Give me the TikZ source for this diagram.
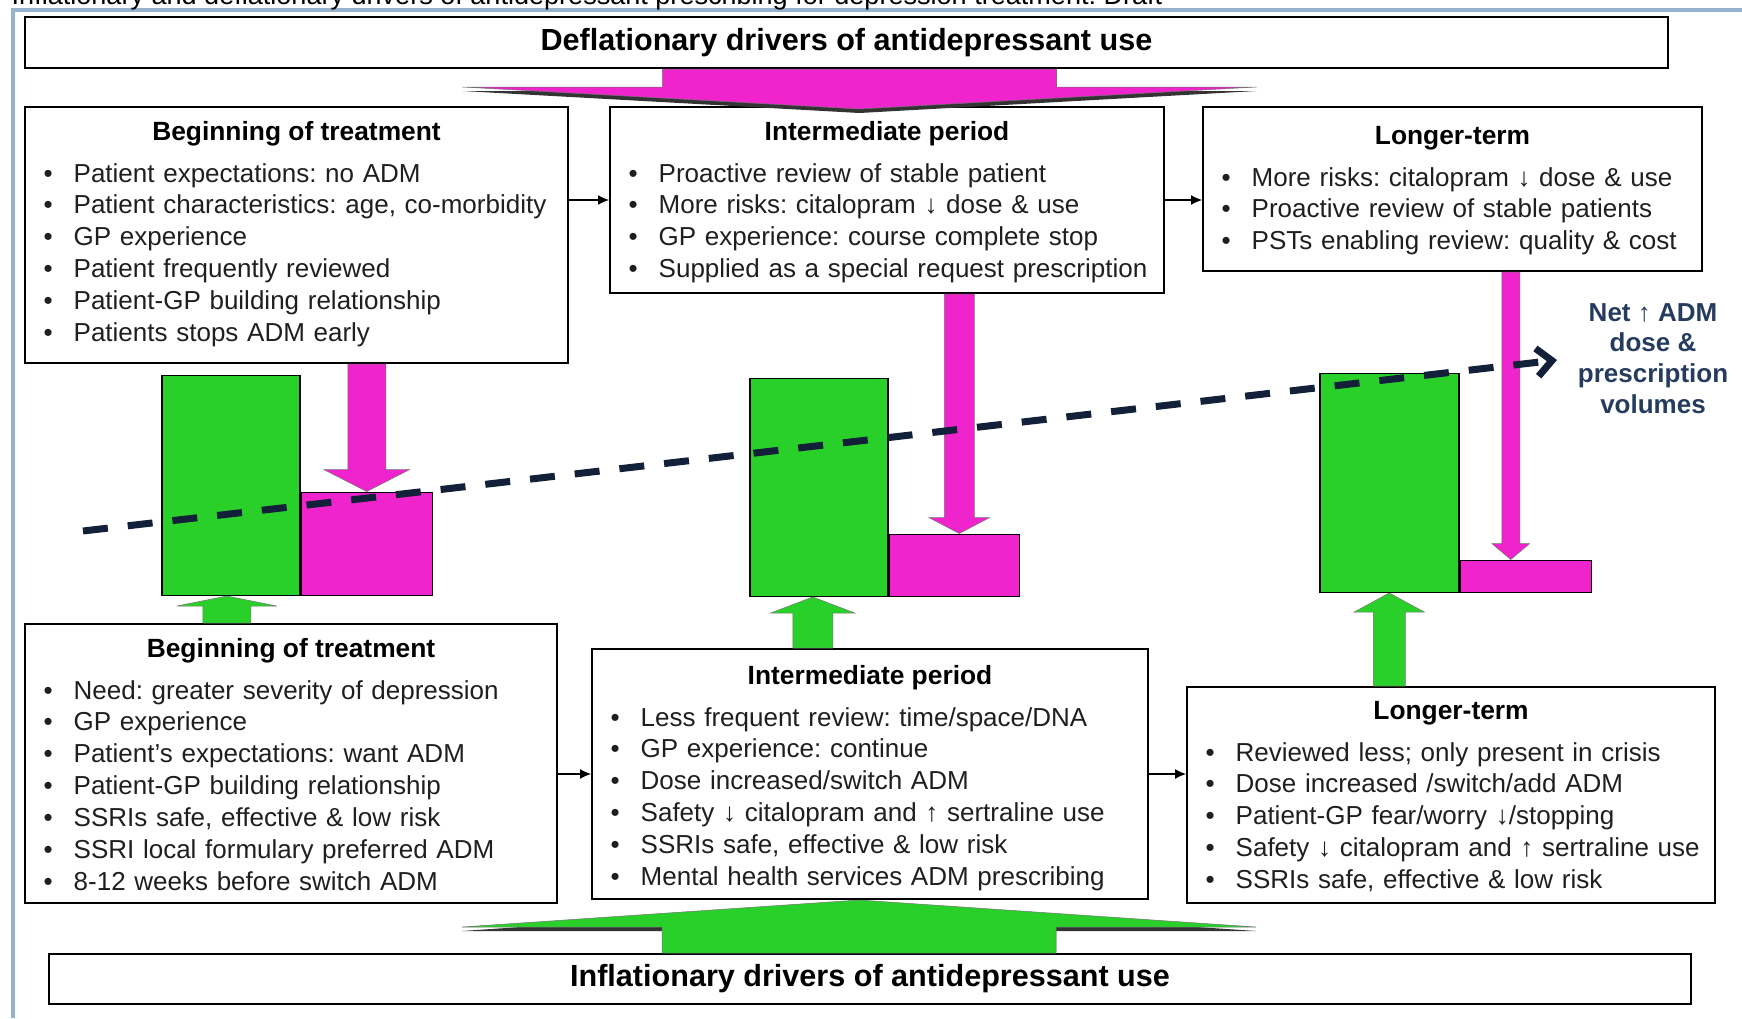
\documentclass[tikz,border=0pt]{standalone}
\usepackage{fontspec}
\setmainfont{Liberation Sans}
\frenchspacing
\usetikzlibrary{arrows.meta,positioning,calc}

\definecolor{incgreen}{RGB}{42,208,42}
\definecolor{decpink}{RGB}{240,36,204}
\definecolor{trendnavy}{RGB}{18,32,58}
\definecolor{netblue}{RGB}{38,60,95}
\definecolor{framegrey}{RGB}{150,178,205}

% vertical block arrow: style, start, tip, half shaft, half head, head length
\newcommand{\blockarrow}[6]{%
  \path[#1] let \p1=(#2), \p2=(#3) in
    (\x2-#4,\y1) -- (\x2-#4,\y2+#6) -- (\x2-#5,\y2+#6) -- (\x2,\y2)
    -- (\x2+#5,\y2+#6) -- (\x2+#4,\y2+#6) -- (\x2+#4,\y1) -- cycle;}

\begin{document}
\begin{tikzpicture}[x=0.1mm,y=-0.1mm]

    \tikzset{panel/.style = {draw, line width=0.2mm, fill=white, anchor=north west, inner sep=0}}
    \tikzset{banner/.style = {panel, font=\fontsize{8.7}{10}\selectfont\bfseries}}
    \tikzset{head/.style = {anchor=base, inner sep=0, font=\fontsize{7.5}{9}\selectfont\bfseries}}
    \tikzset{items/.style = {anchor=base west, inner sep=0, text width=56mm, align=left, text=black!88, font=\fontsize{7.4}{9.1}\selectfont}}
    \tikzset{bar/.style = {draw, line width=0.15mm, anchor=south west, inner sep=0}}
    \tikzset{flow/.style = {-{Latex[length=1.1mm,width=1mm]}, line width=0.12mm}}
    \tikzset{pinkarrow/.style = {fill=decpink, draw=black!55, line width=0.05mm}}
    \tikzset{greenarrow/.style = {fill=incgreen, draw=black!55, line width=0.05mm}}
    \tikzset{arrowshadow/.style = {fill=black!80}}
    \tikzset{trend/.style = {draw=trendnavy, line width=0.7mm, dash pattern=on 2.5mm off 2mm, -{Straight Barb[length=1.5mm,width=2.8mm]}}}

    \useasboundingbox (0,0) rectangle (1742,1018);
    \draw[framegrey, line width=0.4mm] (13,1018) -- (13,10) -- (1742,10);
    \node[anchor=base west, inner sep=0, font=\fontsize{7.7}{8}\selectfont] (caption) at (11,4)
        {Inflationary and deflationary drivers of antidepressant prescribing for depression treatment: Draft};

    % banners
    \node[banner, minimum width=164.3mm, minimum height=5.1mm] (defl) at (24,16) {Deflationary drivers of antidepressant use};
    \node[banner, minimum width=164.2mm, minimum height=5mm] (infl) at (48,953) {Inflationary drivers of antidepressant use};

    % deflationary panels
    \node[panel, minimum width=54.3mm, minimum height=25.6mm] (t1) at (24,106) {};
    \node[panel, minimum width=55.4mm, minimum height=18.6mm] (t2) at (609,106) {};
    \node[panel, minimum width=49.9mm, minimum height=16.4mm] (t3) at (1202,106) {};

    \node[head] (t1h) at ([yshift=-3.4mm]t1.north) {Beginning of treatment};
    \node[items] (t1l) at ([xshift=1.9mm,yshift=-7.6mm]t1.north west) {%
        \makebox[3mm][l]{\textbullet}Patient expectations: no ADM\\
        \makebox[3mm][l]{\textbullet}Patient characteristics: age, co-morbidity\\
        \makebox[3mm][l]{\textbullet}GP experience\\
        \makebox[3mm][l]{\textbullet}Patient frequently reviewed\\
        \makebox[3mm][l]{\textbullet}Patient-GP building relationship\\
        \makebox[3mm][l]{\textbullet}Patients stops ADM early};

    \node[head] (t2h) at ([yshift=-3.4mm]t2.north) {Intermediate period};
    \node[items] (t2l) at ([xshift=1.9mm,yshift=-7.6mm]t2.north west) {%
        \makebox[3mm][l]{\textbullet}Proactive review of stable patient\\
        \makebox[3mm][l]{\textbullet}More risks: citalopram ↓ dose \& use\\
        \makebox[3mm][l]{\textbullet}GP experience: course complete stop\\
        \makebox[3mm][l]{\textbullet}Supplied as a special request prescription};

    \node[head] (t3h) at ([yshift=-3.8mm]t3.north) {Longer-term};
    \node[items] (t3l) at ([xshift=1.9mm,yshift=-8mm]t3.north west) {%
        \makebox[3mm][l]{\textbullet}More risks: citalopram ↓ dose \& use\\
        \makebox[3mm][l]{\textbullet}Proactive review of stable patients\\
        \makebox[3mm][l]{\textbullet}PSTs enabling review: quality \& cost};

    % inflationary panels
    \node[panel, minimum width=53.2mm, minimum height=27.9mm] (b1) at (24,623) {};
    \node[panel, minimum width=55.6mm, minimum height=25mm] (b2) at (591,648) {};
    \node[panel, minimum width=52.8mm, minimum height=21.6mm] (b3) at (1186,686) {};

    \node[head] (b1h) at ([yshift=-3.4mm]b1.north) {Beginning of treatment};
    \node[items] (b1l) at ([xshift=1.9mm,yshift=-7.6mm]b1.north west) {%
        \makebox[3mm][l]{\textbullet}Need: greater severity of depression\\
        \makebox[3mm][l]{\textbullet}GP experience\\
        \makebox[3mm][l]{\textbullet}Patient’s expectations: want ADM\\
        \makebox[3mm][l]{\textbullet}Patient-GP building relationship\\
        \makebox[3mm][l]{\textbullet}SSRIs safe, effective \& low risk\\
        \makebox[3mm][l]{\textbullet}SSRI local formulary preferred ADM\\
        \makebox[3mm][l]{\textbullet}8-12 weeks before switch ADM};

    \node[head] (b2h) at ([yshift=-3.6mm]b2.north) {Intermediate period};
    \node[items] (b2l) at ([xshift=1.9mm,yshift=-7.8mm]b2.north west) {%
        \makebox[3mm][l]{\textbullet}Less frequent review: time/space/DNA\\
        \makebox[3mm][l]{\textbullet}GP experience: continue\\
        \makebox[3mm][l]{\textbullet}Dose increased/switch ADM\\
        \makebox[3mm][l]{\textbullet}Safety ↓ citalopram and ↑ sertraline use\\
        \makebox[3mm][l]{\textbullet}SSRIs safe, effective \& low risk\\
        \makebox[3mm][l]{\textbullet}Mental health services ADM prescribing};

    \node[head] (b3h) at ([yshift=-3.3mm]b3.north) {Longer-term};
    \node[items] (b3l) at ([xshift=1.9mm,yshift=-7.5mm]b3.north west) {%
        \makebox[3mm][l]{\textbullet}Reviewed less; only present in crisis\\
        \makebox[3mm][l]{\textbullet}Dose increased /switch/add ADM\\
        \makebox[3mm][l]{\textbullet}Patient-GP fear/worry ↓/stopping\\
        \makebox[3mm][l]{\textbullet}Safety ↓ citalopram and ↑ sertraline use\\
        \makebox[3mm][l]{\textbullet}SSRIs safe, effective \& low risk};

    \draw[flow] (t1.east |- t2.west) -- (t2.west);
    \draw[flow] (t2.east) -- (t3.west |- t2.east);
    \draw[flow] (b1.east |- b2.west) -- (b2.west);
    \draw[flow] (b2.east) -- (b3.west |- b2.east);

    % bars
    \node[bar, fill=incgreen, minimum width=13.8mm, minimum height=22mm] (g1) at (161,596) {};
    \node[bar, fill=decpink, minimum width=13.1mm, minimum height=10.3mm] (m1) at (g1.south east) {};
    \node[bar, fill=incgreen, minimum width=13.8mm, minimum height=21.8mm] (g2) at (749,597) {};
    \node[bar, fill=decpink, minimum width=13mm, minimum height=6.2mm] (m2) at (g2.south east) {};
    \node[bar, fill=incgreen, minimum width=13.9mm, minimum height=21.9mm] (g3) at (1319,593) {};
    \node[bar, fill=decpink, minimum width=13.1mm, minimum height=3.2mm] (m3) at (g3.south east) {};

    % block arrows (the two wide ones with a dark edge below)
    \blockarrow{arrowshadow}{defl.south}{$(t2.north -| defl.south)+(13,7)$}{19.7mm}{39.7mm}{2.2mm}
    \blockarrow{pinkarrow}{defl.south}{$(t2.north -| defl.south)+(13,3)$}{19.7mm}{39.7mm}{2.2mm}
    \blockarrow{arrowshadow}{$(infl.north)+(0,-2)$}{$(b2.south -| infl.north)+(-11,4)$}{19.7mm}{39.7mm}{-2.7mm}
    \blockarrow{greenarrow}{infl.north}{$(b2.south -| infl.north)+(-11,0)$}{19.7mm}{39.7mm}{-2.7mm}

    \blockarrow{pinkarrow}{t1.south}{m1.north}{1.9mm}{4.3mm}{2.2mm}
    \blockarrow{pinkarrow}{t2.south}{$(m2.north)+(5,0)$}{1.5mm}{3.05mm}{1.6mm}
    \blockarrow{pinkarrow}{t3.south}{$(m3.north)+(-15,0)$}{0.9mm}{1.9mm}{1.6mm}

    \blockarrow{greenarrow}{b1.north}{$(g1.south)+(-4,0)$}{2.4mm}{5mm}{-1mm}
    \blockarrow{greenarrow}{b2.north}{$(g2.south)+(-6,0)$}{2mm}{4.2mm}{-1.6mm}
    \blockarrow{greenarrow}{b3.north}{g3.south}{1.6mm}{3.5mm}{-1.9mm}

    % net trend
    \coordinate (trendstart) at (83,531);
    \coordinate (trendend) at (1557,360);
    \draw[trend] (trendstart) -- (trendend);

    \node[anchor=base, inner sep=0, align=center, text=netblue, font=\fontsize{7.4}{8.7}\selectfont\bfseries] (net) at (1653,413)
        {Net ↑ ADM\\dose \&\\prescription\\volumes};

\end{tikzpicture}
\end{document}
